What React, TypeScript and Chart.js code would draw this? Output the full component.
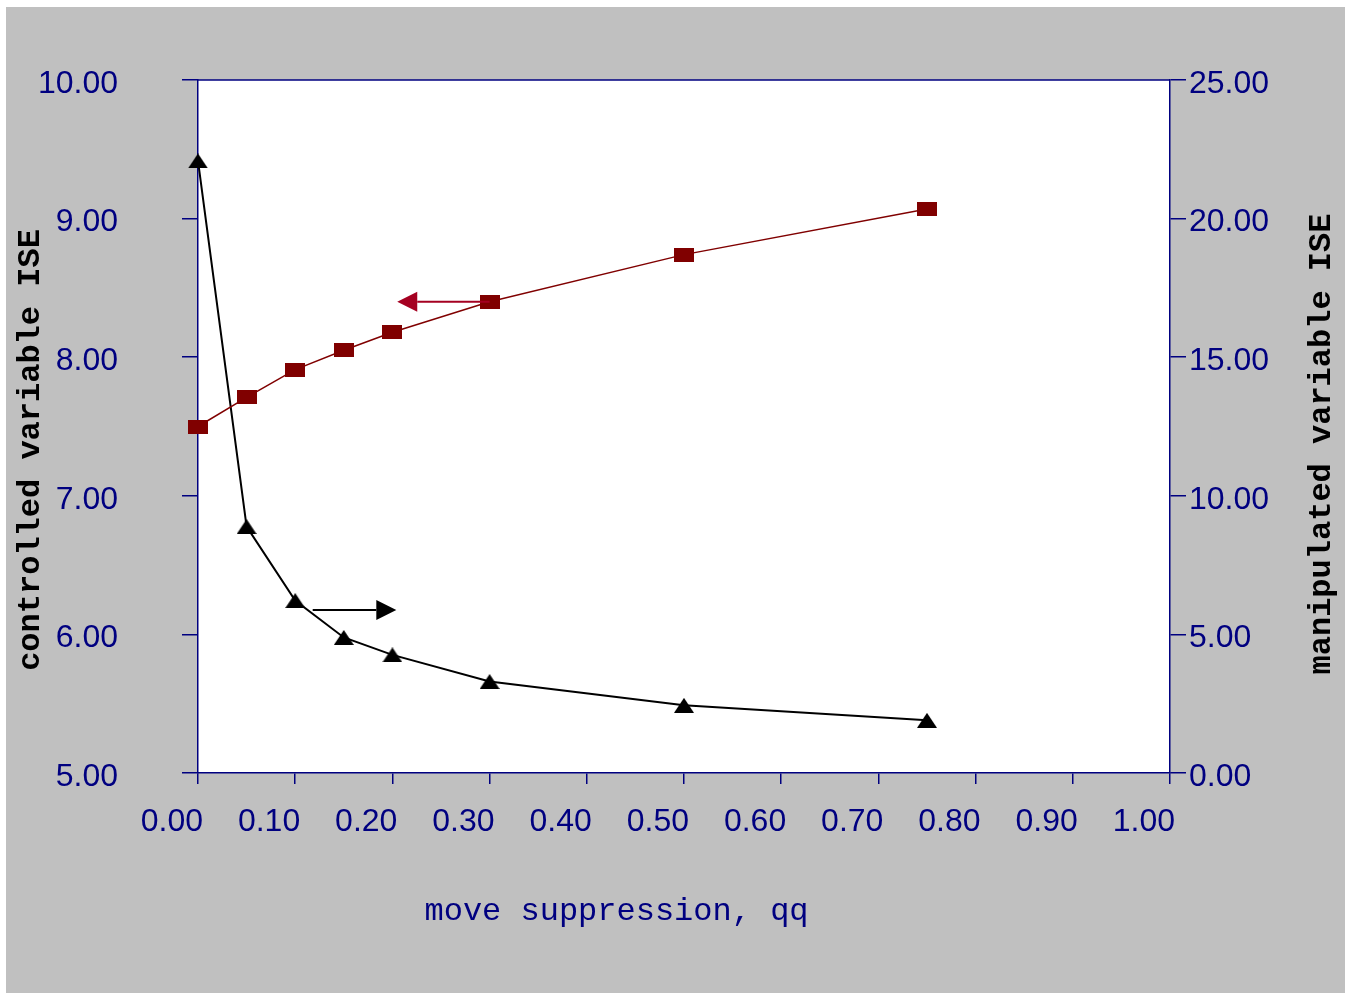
import { useEffect, useRef } from "react";
import { Chart, registerables } from "chart.js";

Chart.register(...registerables);

// move suppression values (x)
const qq = [0, 0.05, 0.1, 0.15, 0.2, 0.3, 0.5, 0.75];
// controlled variable ISE (left axis)
const controlledIse = [7.5, 7.71, 7.91, 8.05, 8.18, 8.4, 8.74, 9.07];
// manipulated variable ISE (right axis)
const manipulatedIse = [22.08, 8.89, 6.22, 4.89, 4.26, 3.3, 2.44, 1.9];

// axis ranges
const xRange = [0, 1];
const leftRange = [5, 10];
const rightRange = [0, 25];

// arrows telling which axis each curve belongs to: [x start, x tip], level
const cvArrowX = [0.3, 0.205];
const cvArrowLevel = 8.4;
const mvArrowX = [0.118, 0.204];
const mvArrowLevel = 5.88;

const NAVY = "#000080";
const DARK_RED = "#800000";
const ARROW_RED = "#A50021";
const SANS = "'Liberation Sans', Arial, sans-serif";
const MONO = "'Liberation Mono', 'Courier New', monospace";

const W = 1339;
const H = 986;

function makeRect(w: number, h: number, color: string) {
  const c = document.createElement("canvas");
  c.width = w;
  c.height = h;
  const g = c.getContext("2d")!;
  g.fillStyle = color;
  g.fillRect(0, 0, w, h);
  return c;
}

function makeTriangle(w: number, h: number, color: string) {
  const c = document.createElement("canvas");
  c.width = w;
  c.height = h;
  const g = c.getContext("2d")!;
  g.fillStyle = color;
  g.beginPath();
  g.moveTo(w / 2, 0);
  g.lineTo(w, h);
  g.lineTo(0, h);
  g.closePath();
  g.fill();
  return c;
}

function drawArrow(
  ctx: CanvasRenderingContext2D,
  x0: number,
  x1: number,
  y: number,
  color: string
) {
  const dir = Math.sign(x1 - x0);
  const headLen = 20;
  const headHalf = 10;
  ctx.save();
  ctx.strokeStyle = color;
  ctx.fillStyle = color;
  ctx.lineWidth = 2;
  ctx.beginPath();
  ctx.moveTo(x0, y);
  ctx.lineTo(x1 - dir * headLen, y);
  ctx.stroke();
  ctx.beginPath();
  ctx.moveTo(x1, y);
  ctx.lineTo(x1 - dir * headLen, y - headHalf);
  ctx.lineTo(x1 - dir * headLen, y + headHalf);
  ctx.closePath();
  ctx.fill();
  ctx.restore();
}

const framePlugin = {
  id: "frame",
  beforeDraw(chart: any) {
    const { ctx, width, height, chartArea: a } = chart;
    ctx.save();
    ctx.fillStyle = "#C0C0C0";
    ctx.fillRect(0, 0, width, height);
    ctx.fillStyle = "#FFFFFF";
    ctx.fillRect(a.left, a.top, a.right - a.left, a.bottom - a.top);
    ctx.strokeStyle = NAVY;
    ctx.lineWidth = 1.5;
    ctx.beginPath();
    ctx.moveTo(a.left, a.top);
    ctx.lineTo(a.right, a.top);
    ctx.stroke();
    ctx.restore();
  },
  afterDatasetsDraw(chart: any) {
    const { ctx, scales } = chart;
    const x = scales.x;
    drawArrow(
      ctx,
      x.getPixelForValue(cvArrowX[0]),
      x.getPixelForValue(cvArrowX[1]),
      scales.yL.getPixelForValue(cvArrowLevel),
      ARROW_RED
    );
    drawArrow(
      ctx,
      x.getPixelForValue(mvArrowX[0]),
      x.getPixelForValue(mvArrowX[1]),
      scales.yR.getPixelForValue(mvArrowLevel),
      "#000000"
    );
  },
  afterDraw(chart: any) {
    const { ctx } = chart;
    ctx.save();
    // x axis title
    ctx.font = `32px ${MONO}`;
    ctx.fillStyle = NAVY;
    ctx.textAlign = "center";
    ctx.textBaseline = "alphabetic";
    ctx.fillText("move suppression, qq", 610.5, 913);
    // left axis title
    ctx.font = `bold 32px ${MONO}`;
    ctx.fillStyle = "#000000";
    ctx.save();
    ctx.translate(32.5, 443);
    ctx.rotate(-Math.PI / 2);
    ctx.fillText("controlled variable ISE", 0, 0);
    ctx.restore();
    // right axis title
    ctx.save();
    ctx.translate(1323.5, 437);
    ctx.rotate(-Math.PI / 2);
    ctx.fillText("manipulated variable ISE", 0, 0);
    ctx.restore();
    ctx.restore();
  },
};

// fixed axis widths; vertical label overflow is covered by the layout padding
function fixY(width: number) {
  return (s: any) => {
    s.width = width;
    s.paddingTop = 0;
    s.paddingBottom = 0;
  };
}

export default function App() {
  const ref = useRef<HTMLCanvasElement | null>(null);

  useEffect(() => {
    const canvas = ref.current;
    if (!canvas) return;

    const square = makeRect(20, 14, DARK_RED);
    const triangle = makeTriangle(20, 15, "#000000");

    const tickFont = { family: SANS, size: 32 };

    const chart = new Chart(canvas, {
      type: "line",
      data: {
        datasets: [
          {
            label: "controlled variable ISE",
            data: qq.map((q, i) => ({ x: q, y: controlledIse[i] })),
            yAxisID: "yL",
            borderColor: DARK_RED,
            borderWidth: 1.5,
            pointStyle: square as any,
            pointRadius: 10,
            tension: 0,
            clip: false as any,
          },
          {
            label: "manipulated variable ISE",
            data: qq.map((q, i) => ({ x: q, y: manipulatedIse[i] })),
            yAxisID: "yR",
            borderColor: "#000000",
            borderWidth: 2,
            pointStyle: triangle as any,
            pointRadius: 10,
            tension: 0,
            clip: false as any,
          },
        ],
      },
      options: {
        responsive: false,
        animation: false,
        devicePixelRatio: 1,
        layout: { padding: { top: 73, left: 0, right: 0, bottom: 0 } },
        plugins: {
          legend: { display: false },
          tooltip: { enabled: false },
        },
        scales: {
          x: {
            type: "linear",
            position: "bottom",
            min: xRange[0],
            max: xRange[1],
            afterFit: (s: any) => {
              s.height = H - 766;
            },
            border: { color: NAVY, width: 1.5 },
            grid: {
              drawOnChartArea: false,
              drawTicks: true,
              tickLength: 11,
              color: NAVY,
              lineWidth: 1.5,
            },
            ticks: {
              stepSize: 0.1,
              autoSkip: false,
              maxRotation: 0,
              align: "end",
              labelOffset: 5,
              padding: 19,
              color: NAVY,
              font: tickFont,
              callback: (v: any) => Number(v).toFixed(2),
            },
          },
          yL: {
            type: "linear",
            position: "left",
            min: leftRange[0],
            max: leftRange[1],
            afterFit: fixY(192),
            border: { color: NAVY, width: 1.5 },
            grid: {
              drawOnChartArea: false,
              drawTicks: true,
              tickLength: 16,
              color: NAVY,
              lineWidth: 1.5,
            },
            ticks: {
              stepSize: 1,
              padding: 64,
              labelOffset: 4,
              color: NAVY,
              font: tickFont,
              callback: (v: any) => Number(v).toFixed(2),
            },
          },
          yR: {
            type: "linear",
            position: "right",
            min: rightRange[0],
            max: rightRange[1],
            afterFit: fixY(W - 1164),
            border: { color: NAVY, width: 1.5 },
            grid: {
              drawOnChartArea: false,
              drawTicks: true,
              tickLength: 16,
              color: NAVY,
              lineWidth: 1.5,
            },
            ticks: {
              stepSize: 5,
              padding: 3,
              labelOffset: 4,
              color: NAVY,
              font: tickFont,
              callback: (v: any) => Number(v).toFixed(2),
            },
          },
        },
      } as any,
      plugins: [framePlugin],
    });

    return () => chart.destroy();
  }, []);

  return (
    <div style={{ position: "absolute", left: 6, top: 7, width: W, height: H }}>
      <canvas ref={ref} width={W} height={H} style={{ display: "block" }} />
    </div>
  );
}
